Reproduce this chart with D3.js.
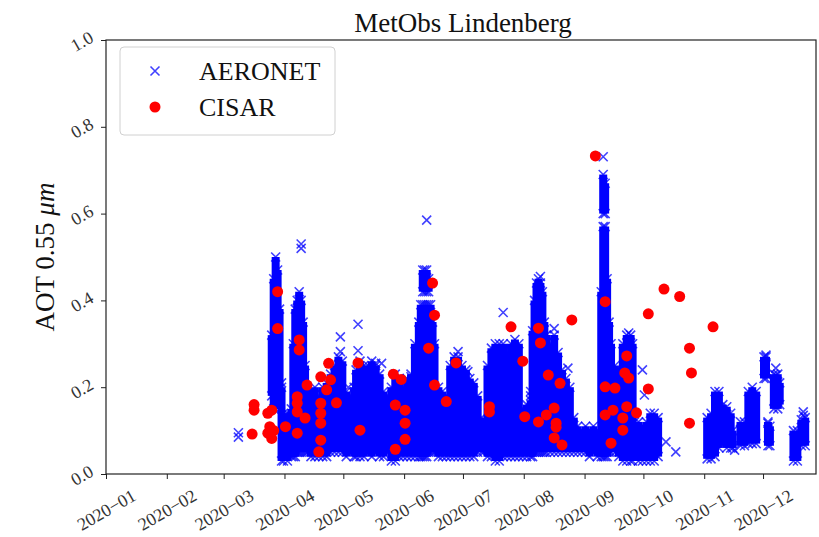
<!DOCTYPE html>
<html>
<head>
<meta charset="utf-8">
<script src="https://cdn.jsdelivr.net/npm/d3@7"></script>
<style>
  body { margin: 0; background: #fff; }
  svg { display: block; }
  text { font-family: "Liberation Serif", "DejaVu Serif", serif; }
</style>
</head>
<body>
<div id="chart"></div>
<script>
// month ticks and y ticks
const monthTicks = ["2020-01","2020-02","2020-03","2020-04","2020-05","2020-06",
                    "2020-07","2020-08","2020-09","2020-10","2020-11","2020-12"];
const yTicks = [0.0, 0.2, 0.4, 0.6, 0.8, 1.0];

// AERONET: daily spread of the observations [day, low, high]
const aeronetRanges = [
  ["03-25",0.18,0.32],["03-26",0.15,0.45],["03-27",0.15,0.50],["03-28",0.16,0.47],
  ["03-29",0.16,0.38],["03-30",0.03,0.20],["03-31",0.03,0.14],["04-02",0.03,0.14],
  ["04-04",0.04,0.15],["04-05",0.04,0.30],["04-06",0.04,0.38],["04-07",0.05,0.40],
  ["04-08",0.05,0.42],["04-09",0.05,0.40],["04-10",0.05,0.35],["04-11",0.05,0.25],
  ["04-12",0.05,0.20],["04-14",0.04,0.19],["04-16",0.04,0.20],["04-18",0.04,0.18],
  ["04-20",0.04,0.20],["04-22",0.04,0.21],["04-24",0.05,0.23],["04-26",0.05,0.25],
  ["04-28",0.05,0.27],["04-30",0.05,0.26],["05-02",0.04,0.19],["05-04",0.05,0.18],
  ["05-06",0.04,0.20],["05-07",0.04,0.24],["05-09",0.04,0.26],["05-11",0.04,0.25],
  ["05-13",0.05,0.25],["05-15",0.04,0.26],["05-17",0.05,0.25],["05-19",0.04,0.23],
  ["05-21",0.04,0.19],["05-23",0.05,0.18],["05-25",0.03,0.20],["05-27",0.03,0.23],
  ["05-29",0.04,0.22],["05-31",0.04,0.20],["06-02",0.04,0.22],["06-04",0.04,0.23],
  ["06-06",0.04,0.30],["06-08",0.04,0.35],["06-09",0.04,0.39],["06-10",0.04,0.39],
  ["06-10",0.42,0.47],["06-11",0.04,0.39],["06-11",0.42,0.47],["06-12",0.04,0.39],
  ["06-12",0.42,0.47],["06-13",0.05,0.39],["06-13",0.42,0.45],["06-14",0.05,0.39],
  ["06-15",0.05,0.35],["06-16",0.05,0.30],["06-18",0.04,0.20],["06-20",0.04,0.19],
  ["06-22",0.04,0.18],["06-24",0.04,0.25],["06-26",0.04,0.27],["06-28",0.04,0.27],
  ["06-30",0.04,0.25],["07-02",0.04,0.24],["07-04",0.04,0.22],["07-06",0.04,0.21],
  ["07-08",0.05,0.18],["07-10",0.05,0.13],["07-11",0.05,0.12],["07-13",0.04,0.25],
  ["07-15",0.04,0.29],["07-17",0.03,0.30],["07-19",0.03,0.30],["07-21",0.04,0.30],
  ["07-23",0.04,0.28],["07-25",0.04,0.30],["07-27",0.04,0.31],["07-29",0.04,0.30],
  ["07-31",0.04,0.15],["08-02",0.04,0.16],["08-04",0.04,0.17],["08-05",0.04,0.33],
  ["08-06",0.05,0.40],["08-07",0.05,0.44],["08-08",0.05,0.45],["08-09",0.05,0.44],
  ["08-10",0.05,0.42],["08-11",0.05,0.35],["08-12",0.05,0.32],["08-14",0.05,0.30],
  ["08-16",0.05,0.32],["08-18",0.05,0.28],["08-20",0.05,0.24],["08-22",0.05,0.22],
  ["08-24",0.05,0.20],["08-26",0.05,0.13],["08-28",0.05,0.11],["08-30",0.05,0.10],
  ["09-01",0.05,0.11],["09-03",0.04,0.10],["09-05",0.05,0.11],["09-07",0.04,0.10],
  ["09-09",0.04,0.42],["09-10",0.04,0.57],["09-10",0.60,0.69],["09-11",0.04,0.57],
  ["09-11",0.60,0.67],["09-12",0.04,0.45],["09-13",0.05,0.35],["09-14",0.05,0.30],
  ["09-16",0.05,0.25],["09-18",0.04,0.24],["09-20",0.03,0.30],["09-22",0.03,0.32],
  ["09-24",0.03,0.32],["09-25",0.03,0.30],["09-26",0.04,0.12],["09-28",0.03,0.12],
  ["09-30",0.03,0.11],["10-02",0.03,0.12],["10-04",0.03,0.14],["10-06",0.03,0.14],
  ["10-08",0.04,0.13],
  ["11-02",0.035,0.13],["11-04",0.035,0.14],["11-06",0.04,0.19],["11-08",0.06,0.19],
  ["11-10",0.07,0.16],["11-12",0.06,0.155],["11-14",0.06,0.14],["11-15",0.06,0.10],
  ["11-19",0.065,0.12],["11-21",0.065,0.12],["11-23",0.07,0.19],["11-25",0.07,0.20],
  ["11-27",0.07,0.19],["12-01",0.22,0.27],["12-02",0.22,0.27],["12-03",0.065,0.12],
  ["12-04",0.065,0.11],["12-06",0.15,0.23],["12-08",0.15,0.23],["12-09",0.16,0.21],
  ["12-16",0.03,0.10],["12-18",0.03,0.10],["12-20",0.065,0.125],["12-22",0.065,0.13]
];

// AERONET: single observations standing apart from the daily spread
const aeronetPoints = [
  ["03-08",0.085],["03-08",0.095],["03-30",0.21],["04-09",0.52],["04-09",0.53],
  ["04-29",0.316],["04-29",0.282],["05-03",0.20],["05-08",0.345],["05-08",0.284],
  ["05-17",0.255],["05-20",0.255],["06-04",0.224],["06-12",0.585],["06-28",0.282],
  ["07-03",0.236],["07-21",0.372],["08-04",0.19],["08-04",0.18],["08-09",0.455],
  ["08-16",0.335],["08-23",0.244],["09-10",0.731],["09-23",0.325],["09-30",0.24],
  ["10-01",0.182],["10-12",0.074],["10-17",0.051],["11-16",0.055],["12-02",0.274],
  ["12-03",0.117],["12-07",0.244],["12-07",0.228],["12-21",0.143],["12-21",0.135]
];

// CISAR retrievals [day, AOT]
const cisar = [
  ["03-15",0.092],["03-16",0.160],["03-16",0.147],["03-23",0.140],["03-23",0.094],
  ["03-24",0.109],["03-25",0.147],["03-25",0.082],["03-26",0.100],["03-28",0.420],
  ["03-28",0.335],["04-01",0.109],["04-07",0.178],["04-07",0.163],["04-07",0.143],
  ["04-07",0.094],["04-08",0.309],["04-08",0.286],["04-11",0.129],["04-12",0.205],
  ["04-18",0.051],["04-19",0.224],["04-19",0.163],["04-19",0.140],["04-19",0.117],
  ["04-19",0.078],["04-22",0.194],["04-23",0.255],["04-24",0.217],["04-27",0.164],
  ["05-08",0.256],["05-09",0.101],["05-26",0.230],["05-27",0.159],["05-27",0.057],
  ["05-30",0.218],["06-01",0.147],["06-01",0.117],["06-01",0.080],["06-13",0.290],
  ["06-15",0.440],["06-16",0.366],["06-16",0.205],["06-22",0.167],["06-27",0.256],
  ["07-14",0.155],["07-14",0.143],["07-25",0.339],["07-31",0.260],["08-01",0.132],
  ["08-08",0.336],["08-08",0.120],["08-09",0.302],["08-12",0.136],["08-13",0.228],
  ["08-16",0.152],["08-16",0.083],["08-17",0.117],["08-17",0.108],["08-19",0.209],
  ["08-20",0.067],["08-25",0.355],["09-06",0.733],["09-11",0.397],["09-11",0.201],
  ["09-11",0.136],["09-14",0.071],["09-15",0.147],["09-16",0.198],["09-20",0.101],
  ["09-20",0.129],["09-21",0.233],["09-22",0.155],["09-22",0.272],["09-23",0.221],
  ["09-27",0.141],["10-03",0.369],["10-03",0.196],["10-11",0.426],["10-19",0.409],
  ["10-24",0.290],["10-24",0.117],["10-25",0.233],["11-05",0.339]
];

const W = 819, H = 537;
const pLeft = 106, pTop = 40, pRight = 816, pBottom = 474;

const parseDay = (md) => d3.timeParse("%Y-%m-%d %H")("2020-" + md + " 12");
const parseMonth = d3.timeParse("%Y-%m");

const svg = d3.select("#chart").append("svg")
  .attr("width", W).attr("height", H);

const x = d3.scaleTime()
  .domain([new Date(2020, 0, 1), new Date(2020, 11, 28)])
  .range([pLeft, pRight]);

const y = d3.scaleLinear()
  .domain([0, 1])
  .range([pBottom, pTop]);

const blue = "#0000ff";
const xMark = "M-4.5,-4.5L4.5,4.5M-4.5,4.5L4.5,-4.5";

// AERONET spread columns
const plot = svg.append("g");
plot.selectAll("line.spread")
  .data(aeronetRanges)
  .enter()
  .append("line")
  .attr("class", "spread")
  .attr("x1", d => x(parseDay(d[0])))
  .attr("x2", d => x(parseDay(d[0])))
  .attr("y1", d => y(d[1]))
  .attr("y2", d => y(d[2]))
  .attr("stroke", blue)
  .attr("stroke-width", 8);

// x markers on the ends of the spread and for single points
const ends = aeronetRanges.flatMap(d => [[d[0], d[1]], [d[0], d[2]]]);
plot.selectAll("path.aero")
  .data(ends.concat(aeronetPoints))
  .enter()
  .append("path")
  .attr("class", "aero")
  .attr("d", xMark)
  .attr("transform", d => `translate(${x(parseDay(d[0]))},${y(d[1])})`)
  .attr("stroke", blue)
  .attr("stroke-opacity", 0.75)
  .attr("stroke-width", 1.6)
  .attr("fill", "none");

// CISAR dots
plot.selectAll("circle")
  .data(cisar)
  .enter()
  .append("circle")
  .attr("cx", d => x(parseDay(d[0])))
  .attr("cy", d => y(d[1]))
  .attr("r", 5.5)
  .attr("fill", "#ff0000");

// frame
svg.append("rect")
  .attr("x", pLeft).attr("y", pTop)
  .attr("width", pRight - pLeft).attr("height", pBottom - pTop)
  .attr("fill", "none")
  .attr("stroke", "#222")
  .attr("stroke-width", 1.2);

// X axis
const xAxis = d3.axisBottom(x)
  .tickValues(monthTicks.map(parseMonth))
  .tickSize(5)
  .tickFormat(d3.timeFormat("%Y\u2212%m"));

const gx = svg.append("g")
  .attr("transform", `translate(0,${pBottom})`)
  .call(xAxis);
gx.select(".domain").remove();
gx.selectAll(".tick line").attr("stroke", "#222");
gx.selectAll(".tick text")
  .attr("y", 0).attr("dy", 0)
  .attr("transform", "translate(0,36) rotate(-30)")
  .attr("text-anchor", "middle")
  .attr("dominant-baseline", "central")
  .attr("fill", "#333")
  .style("font-size", "18px")
  .style("font-family", "Liberation Serif");

// Y axis
const yAxis = d3.axisLeft(y)
  .tickValues(yTicks)
  .tickSize(5)
  .tickFormat(d3.format(".1f"));

const gy = svg.append("g")
  .attr("transform", `translate(${pLeft},0)`)
  .call(yAxis);
gy.select(".domain").remove();
gy.selectAll(".tick line").attr("stroke", "#222");
gy.selectAll(".tick text")
  .attr("x", 0).attr("dy", 0)
  .attr("transform", "translate(-24,1) rotate(-30)")
  .attr("text-anchor", "middle")
  .attr("dominant-baseline", "central")
  .attr("fill", "#333")
  .style("font-size", "18px")
  .style("font-family", "Liberation Serif");

// title
svg.append("text")
  .attr("x", 463)
  .attr("y", 32)
  .attr("text-anchor", "middle")
  .attr("font-size", 27)
  .attr("fill", "#111")
  .text("MetObs Lindenberg");

// y label
const yl = svg.append("text")
  .attr("transform", `translate(54,${(pTop + pBottom) / 2}) rotate(-90)`)
  .attr("text-anchor", "middle")
  .attr("font-size", 27)
  .attr("fill", "#111");
yl.append("tspan").text("AOT 0.55 ");
yl.append("tspan").attr("font-style", "italic").text("\u03bcm");

// legend
const legend = svg.append("g").attr("id", "legend");
legend.append("rect")
  .attr("x", 120).attr("y", 47)
  .attr("width", 215).attr("height", 88)
  .attr("rx", 4)
  .attr("fill", "#fff").attr("fill-opacity", 0.8)
  .attr("stroke", "#d0d0d0");
legend.append("path")
  .attr("d", xMark)
  .attr("transform", "translate(155,71)")
  .attr("stroke", blue).attr("stroke-opacity", 0.75)
  .attr("stroke-width", 1.6);
legend.append("circle")
  .attr("cx", 155).attr("cy", 107).attr("r", 5.5)
  .attr("fill", "#ff0000");
legend.append("text")
  .attr("x", 199).attr("y", 80)
  .attr("font-size", 26).attr("fill", "#111")
  .text("AERONET");
legend.append("text")
  .attr("x", 199).attr("y", 116)
  .attr("font-size", 26).attr("fill", "#111")
  .text("CISAR");
</script>
</body>
</html>
